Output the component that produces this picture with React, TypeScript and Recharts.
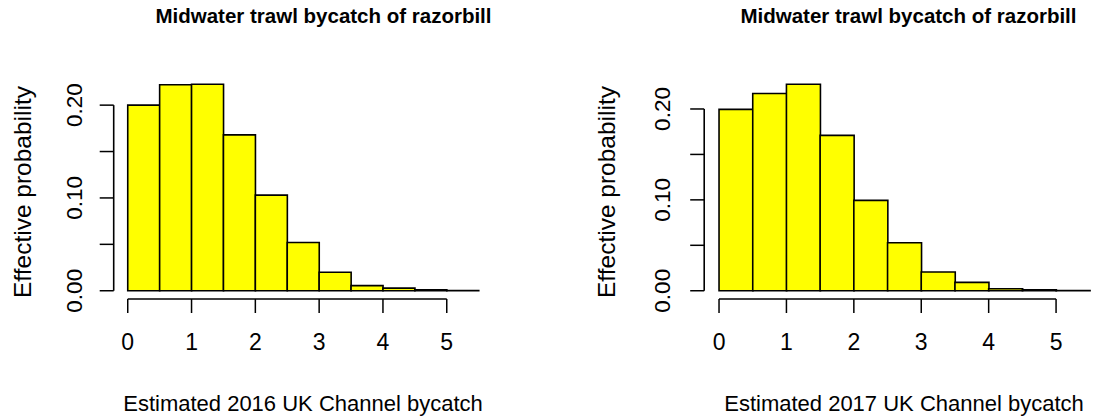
import { Bar, BarChart, ReferenceLine, XAxis, YAxis } from 'recharts';

// bin midpoints (bins are 0.5 wide, 0 to 5.5)
const binMids = [0.25, 0.75, 1.25, 1.75, 2.25, 2.75, 3.25, 3.75, 4.25, 4.75, 5.25];
const prob2016 = [0.2, 0.222, 0.2225, 0.168, 0.103, 0.052, 0.02, 0.0055, 0.0028, 0.001, 0.0003];
const prob2017 = [0.1996, 0.217, 0.2272, 0.171, 0.0994, 0.0528, 0.0206, 0.0092, 0.0022, 0.001, 0.0003];
const xTicks = [0, 1, 2, 3, 4, 5];
const yTicks = [0, 0.05, 0.1, 0.15, 0.2];
const yLabelled = [0, 0.1, 0.2];

const FONT = 'Arial, "Liberation Sans", sans-serif';

function RotatedTick(props: any) {
  const { x, y, payload } = props;
  const v = payload.value;
  if (!yLabelled.some((t) => Math.abs(t - v) < 1e-9)) return null;
  return (
    <text
      x={x}
      y={y}
      transform={`rotate(-90, ${x}, ${y})`}
      textAnchor="middle"
      fontSize={22.5}
      fontFamily={FONT}
      fill="#000"
    >
      {v.toFixed(2)}
    </text>
  );
}

type PanelProps = {
  values: number[];
  year: string;
  width: number;
  axisWidth: number;
  plotWidth: number;
  yTickMargin: number;
  titleX: number;
  xLabelX: number;
  yLabelX: number;
};

function Histogram({
  values,
  year,
  width,
  axisWidth,
  plotWidth,
  yTickMargin,
  titleX,
  xLabelX,
  yLabelX,
}: PanelProps) {
  const data = binMids.map((mid, i) => ({ mid, p: values[i] }));
  const maxP = Math.max(...values);
  // R-style 4% axis extension
  const yMin = -0.04 * maxP;
  const yMax = 1.04 * maxP;
  const xMin = -0.04 * 5.5;
  const xMax = 5.5 * 1.04;

  return (
    <div style={{ position: 'relative', width, height: 418 }}>
      <BarChart
        width={width}
        height={418}
        data={data}
        margin={{ top: 76, right: width - axisWidth - plotWidth, bottom: 79, left: 0 }}
        barCategoryGap={0}
        barGap={0}
      >
        <XAxis
          type="number"
          dataKey="mid"
          domain={[xMin, xMax]}
          ticks={xTicks}
          interval={0}
          height={40}
          axisLine={false}
          tickLine={{ stroke: '#000', strokeWidth: 1.5 }}
          tickSize={14}
          tickMargin={21}
          tick={{ fill: '#000', fontSize: 23, fontFamily: FONT }}
          allowDataOverflow
        />
        <YAxis
          domain={[yMin, yMax]}
          ticks={yTicks}
          interval={0}
          width={axisWidth}
          axisLine={false}
          tickLine={{ stroke: '#000', strokeWidth: 1.5 }}
          tickSize={14}
          tickMargin={yTickMargin}
          tick={<RotatedTick />}
          allowDataOverflow
        />
        <Bar
          dataKey="p"
          fill="#ffff00"
          stroke="#000"
          strokeWidth={1.6}
          isAnimationActive={false}
        />
        <ReferenceLine
          segment={[
            { x: 0, y: yMin },
            { x: 5, y: yMin },
          ]}
          stroke="#000"
          strokeWidth={1.6}
        />
        <ReferenceLine
          segment={[
            { x: xMin, y: 0 },
            { x: xMin, y: 0.2 },
          ]}
          stroke="#000"
          strokeWidth={1.6}
        />
      </BarChart>
      <svg
        width={width}
        height={418}
        style={{ position: 'absolute', left: 0, top: 0, pointerEvents: 'none' }}
      >
        <text
          x={titleX}
          y={23}
          textAnchor="middle"
          fontSize={20.5}
          fontWeight="bold"
          fontFamily={FONT}
        >
          Midwater trawl bycatch of razorbill
        </text>
        <text x={xLabelX} y={410.5} textAnchor="middle" fontSize={22} fontFamily={FONT}>
          {`Estimated ${year} UK Channel bycatch`}
        </text>
        <text
          x={yLabelX}
          y={192}
          transform={`rotate(-90, ${yLabelX}, 192)`}
          textAnchor="middle"
          fontSize={24.5}
          fontFamily={FONT}
        >
          Effective probability
        </text>
      </svg>
    </div>
  );
}

export default function App() {
  return (
    <div
      style={{
        position: 'absolute',
        left: 0,
        top: 0,
        width: 1109,
        height: 418,
        background: '#fff',
        display: 'flex',
      }}
    >
      <Histogram
        values={prob2016}
        year="2016"
        width={555}
        axisWidth={113.7}
        plotWidth={379}
        yTickMargin={17.7}
        titleX={323.5}
        xLabelX={303}
        yLabelX={30.5}
      />
      <Histogram
        values={prob2017}
        year="2017"
        width={554}
        axisWidth={149.2}
        plotWidth={400.4}
        yTickMargin={20.2}
        titleX={353.5}
        xLabelX={349}
        yLabelX={59.5}
      />
    </div>
  );
}
